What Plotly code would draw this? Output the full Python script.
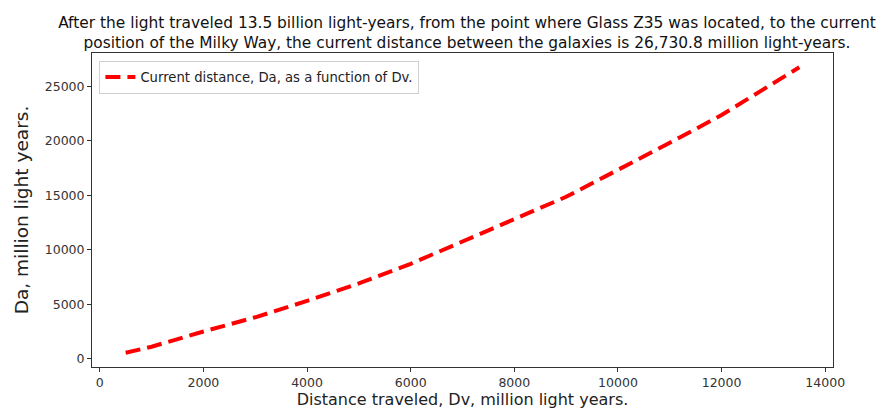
import plotly.graph_objects as go

# Distance travelled by the light (million light-years)
dv = [500, 1000, 2000, 3000, 4000, 5000, 6000, 7000, 8000, 9000,
      10000, 11000, 12000, 13000, 13500]
# Current distance between the galaxies (million light-years)
da = [550, 1100, 2500, 3800, 5300, 6900, 8700, 10800, 12800, 14850,
      17300, 19800, 22350, 25250, 26730.8]

x_ticks = [0, 2000, 4000, 6000, 8000, 10000, 12000, 14000]
y_ticks = [0, 5000, 10000, 15000, 20000, 25000]

title_text = ("After the light traveled 13.5 billion light-years, from the point where Glass Z35 was located, to the current<br>"
              "position of the Milky Way, the current distance between the galaxies is 26,730.8 million light-years.")

font_family = "DejaVu Sans"

fig = go.Figure()
fig.add_trace(go.Scatter(
    x=dv, y=da, mode="lines",
    name="Current distance, Da, as a function of Dv.",
    line=dict(color="#ff0000", width=4, dash="15px,7px"),
))

def pad(lo, hi, frac=0.05):
    span = hi - lo
    return [lo - frac * span, hi + frac * span]

axis_common = dict(
    showgrid=False, zeroline=False, showline=True, mirror=True,
    linecolor="#333333", linewidth=1,
    ticks="outside", ticklen=4, tickcolor="#333333",
    tickformat="d",
    tickfont=dict(family=font_family, size=12.5, color="#333333"),
)

fig.update_layout(
    width=887, height=416,
    margin=dict(l=92, r=54, t=53, b=49),
    paper_bgcolor="white", plot_bgcolor="white",
    font=dict(family=font_family, color="#222222"),
    title=dict(text=title_text, x=467 / 887, xanchor="center",
               y=1 - 28 / 416, yanchor="middle", yref="container",
               font=dict(family=font_family, size=15.4, color="#111111")),
    showlegend=True,
    legend=dict(x=0.01, y=0.975, xanchor="left", yanchor="top",
                bgcolor="white", bordercolor="#d0d0d0", borderwidth=1,
                font=dict(family=font_family, size=13.2, color="#222222"),
                itemwidth=30),
    xaxis=dict(range=pad(min(dv), max(dv)), tickvals=x_ticks,
               title=dict(text="Distance traveled, Dv, million light years.",
                          font=dict(family=font_family, size=16, color="#222222"),
                          standoff=4),
               **axis_common),
    yaxis=dict(range=pad(min(da), max(da)), tickvals=y_ticks,
               title=dict(text="Da, million light years.",
                          font=dict(family=font_family, size=18.5, color="#222222"),
                          standoff=11),
               **axis_common),
)

fig.write_html("out.html")
